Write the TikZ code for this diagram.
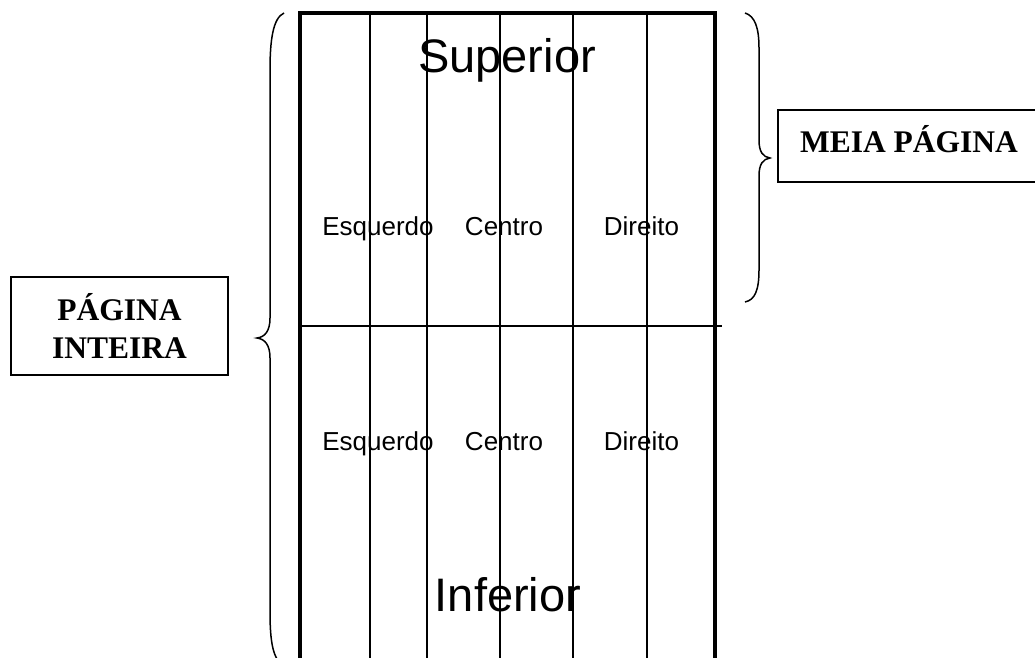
\documentclass[tikz,border=0pt]{standalone}
\usepackage{fontspec}
\setmainfont{Liberation Serif}
\newfontfamily\arialfont{Liberation Sans}
\begin{document}
\begin{tikzpicture}[x=1pt,y=-1pt,
  frame/.style={line width=4pt},
  rule/.style={line width=1.6pt},
  bracket/.style={line width=1.5pt},
  labelbox/.style={draw,line width=1.5pt},
  bigtitle/.style={font=\arialfont\fontsize{47}{56}\selectfont,anchor=base,inner sep=0pt},
  coltext/.style={font=\arialfont\fontsize{26}{31}\selectfont,anchor=base,inner sep=0pt},
  boxtext/.style={font=\bfseries\fontsize{31.5}{38}\selectfont,anchor=base,inner sep=0pt,align=center}]
\useasboundingbox (0,0) rectangle (1035,657);
\clip (0,0) rectangle (1035,657);

% page columns
\foreach \cx in {370,427,500,573,647}
  \draw[rule] (\cx,13) -- (\cx,680);
% half-page divider
\draw[rule] (302,326) -- (722,326);
% page outline, open past the lower edge
\draw[frame] (300,680) -- (300,13) -- (715,13) -- (715,680);

% row titles
\node[bigtitle] (sup) at (507,72) {Superior};
\node[bigtitle] (inf) at (508,611) {Inferior};

% column labels, upper half
\node[coltext] (esq1) at (378,235) {Esquerdo};
\node[coltext] (cen1) at (504,235) {Centro};
\node[coltext] (dir1) at (641.5,235) {Direito};
% column labels, lower half
\node[coltext] (esq2) at (378,450) {Esquerdo};
\node[coltext] (cen2) at (504,450) {Centro};
\node[coltext] (dir2) at (641.5,450) {Direito};

% brace over the whole page
\draw[bracket] (284,13) .. controls (273,18) and (270,40) .. (270,70)
  -- (270,318) .. controls (270,331) and (265,337) .. (257,338)
  .. controls (265,339) and (270,345) .. (270,358)
  -- (270,612) .. controls (270,642) and (273,660) .. (284,666);
% brace over the upper half
\draw[bracket] (745,13) .. controls (755,16) and (759,28) .. (759,48)
  -- (759,140) .. controls (759,152) and (763,157) .. (770,158)
  .. controls (763,159) and (759,164) .. (759,176)
  -- (759,270) .. controls (759,290) and (755,300) .. (745,302);

% labels
\draw[labelbox] (11,277) rectangle (228,375);
\node[boxtext] (whole1) at (119.5,320) {PÁGINA};
\node[boxtext] (whole2) at (119.5,358) {INTEIRA};
\draw[labelbox] (778,110) rectangle (1045,182);
\node[boxtext] (half) at (909,152) {MEIA PÁGINA};
\end{tikzpicture}
\end{document}
